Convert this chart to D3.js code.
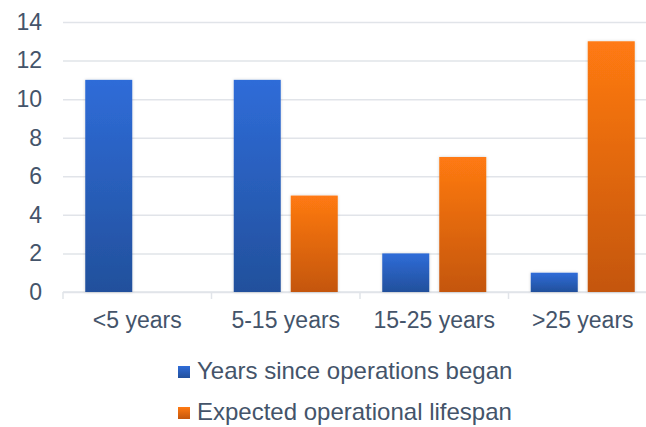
<!DOCTYPE html>
<html lang="en">
<head>
<meta charset="UTF-8">
<style>
  body { margin: 0; background: #fff; }
  svg { display: block; font-family: "Liberation Sans", Arial, sans-serif; }
  .tick text { fill: #44546a; font-size: 23px; }
</style>
</head>
<body>
<div id="chart"></div>
<script src="https://d3js.org/d3.v7.min.js"></script>
<script>
const categories = ["<5 years", "5-15 years", "15-25 years", ">25 years"];
const seriesNames = ["Years since operations began", "Expected operational lifespan"];
const yearsSince = [11, 11, 2, 1];
const lifespan = [0, 5, 7, 13];
const yTicks = [0, 2, 4, 6, 8, 10, 12, 14];

const W = 646, H = 427;
const plotLeft = 63, plotTop = 22, plotBottom = 292;
const catW = 148.5;
const plotRight = plotLeft + catW * categories.length;

const svg = d3.select("#chart").append("svg").attr("width", W).attr("height", H);
const defs = svg.append("defs");

function grad(id, c1, c2) {
  const g = defs.append("linearGradient").attr("id", id).attr("x1", 0).attr("y1", 0).attr("x2", 0).attr("y2", 1);
  g.append("stop").attr("offset", "0%").attr("stop-color", c1);
  g.append("stop").attr("offset", "100%").attr("stop-color", c2);
}
grad("gBlue", "#2f6cd8", "#22509c");
grad("gOrange", "#ff7a12", "#c4560c");
const f = defs.append("filter").attr("id", "sh").attr("x", "-20%").attr("y", "-20%").attr("width", "140%").attr("height", "140%");
f.append("feDropShadow").attr("dx", 0).attr("dy", 0).attr("stdDeviation", 1.5).attr("flood-color", "#000").attr("flood-opacity", 0.18);

const x = d3.scaleBand().domain(categories).range([plotLeft, plotRight]).paddingInner(0).paddingOuter(0);
const x1 = d3.scaleBand().domain(seriesNames).range([22.25, catW - 22.25]).paddingInner(10 / 57);
const y = d3.scaleLinear().domain([0, 14]).range([plotBottom, plotTop]);

// gridlines + y labels
svg.append("g")
  .attr("transform", `translate(${plotLeft},0)`)
  .call(d3.axisLeft(y).tickValues(yTicks).tickSize(-(W - plotLeft)))
  .call(g => g.select(".domain").remove())
  .call(g => g.selectAll(".tick line").attr("stroke", "#e1e4e9").attr("stroke-width", 1.5))
  .call(g => g.selectAll(".tick text").attr("x", -21));

// x axis
svg.append("g")
  .attr("transform", `translate(0,${plotBottom})`)
  .call(d3.axisBottom(x).tickSize(0))
  .call(g => g.select(".domain").attr("stroke", "#e1e4e9").attr("stroke-width", 1.5).attr("d", `M${plotLeft},0H${W}`))
  .call(g => g.selectAll(".tick text").attr("y", 36).attr("dy", 0));

// x category separators
svg.append("g").selectAll("line")
  .data(categories)
  .join("line")
  .attr("x1", d => x(d)).attr("x2", d => x(d))
  .attr("y1", plotBottom).attr("y2", plotBottom + 7)
  .attr("stroke", "#e1e4e9").attr("stroke-width", 1.5);

const series = [
  { name: seriesNames[0], values: yearsSince, fill: "url(#gBlue)" },
  { name: seriesNames[1], values: lifespan, fill: "url(#gOrange)" }
];

series.forEach(s => {
  svg.append("g").selectAll("rect")
    .data(categories.map((c, i) => ({ c, v: s.values[i] })).filter(d => d.v > 0))
    .join("rect")
    .attr("x", d => x(d.c) + x1(s.name))
    .attr("y", d => y(d.v))
    .attr("width", x1.bandwidth())
    .attr("height", d => y(0) - y(d.v))
    .attr("fill", s.fill)
    .attr("filter", "url(#sh)");
});

// legend
const leg = svg.append("g").attr("transform", "translate(178,0)");
series.forEach((s, i) => {
  const base = 379 + i * 41;
  leg.append("rect").attr("x", 0).attr("y", base - 13).attr("width", 12).attr("height", 12).attr("fill", s.fill);
  leg.append("text").attr("x", 19).attr("y", base)
    .attr("fill", "#44546a").style("font-size", "24px").text(s.name);
});
</script>
</body>
</html>
